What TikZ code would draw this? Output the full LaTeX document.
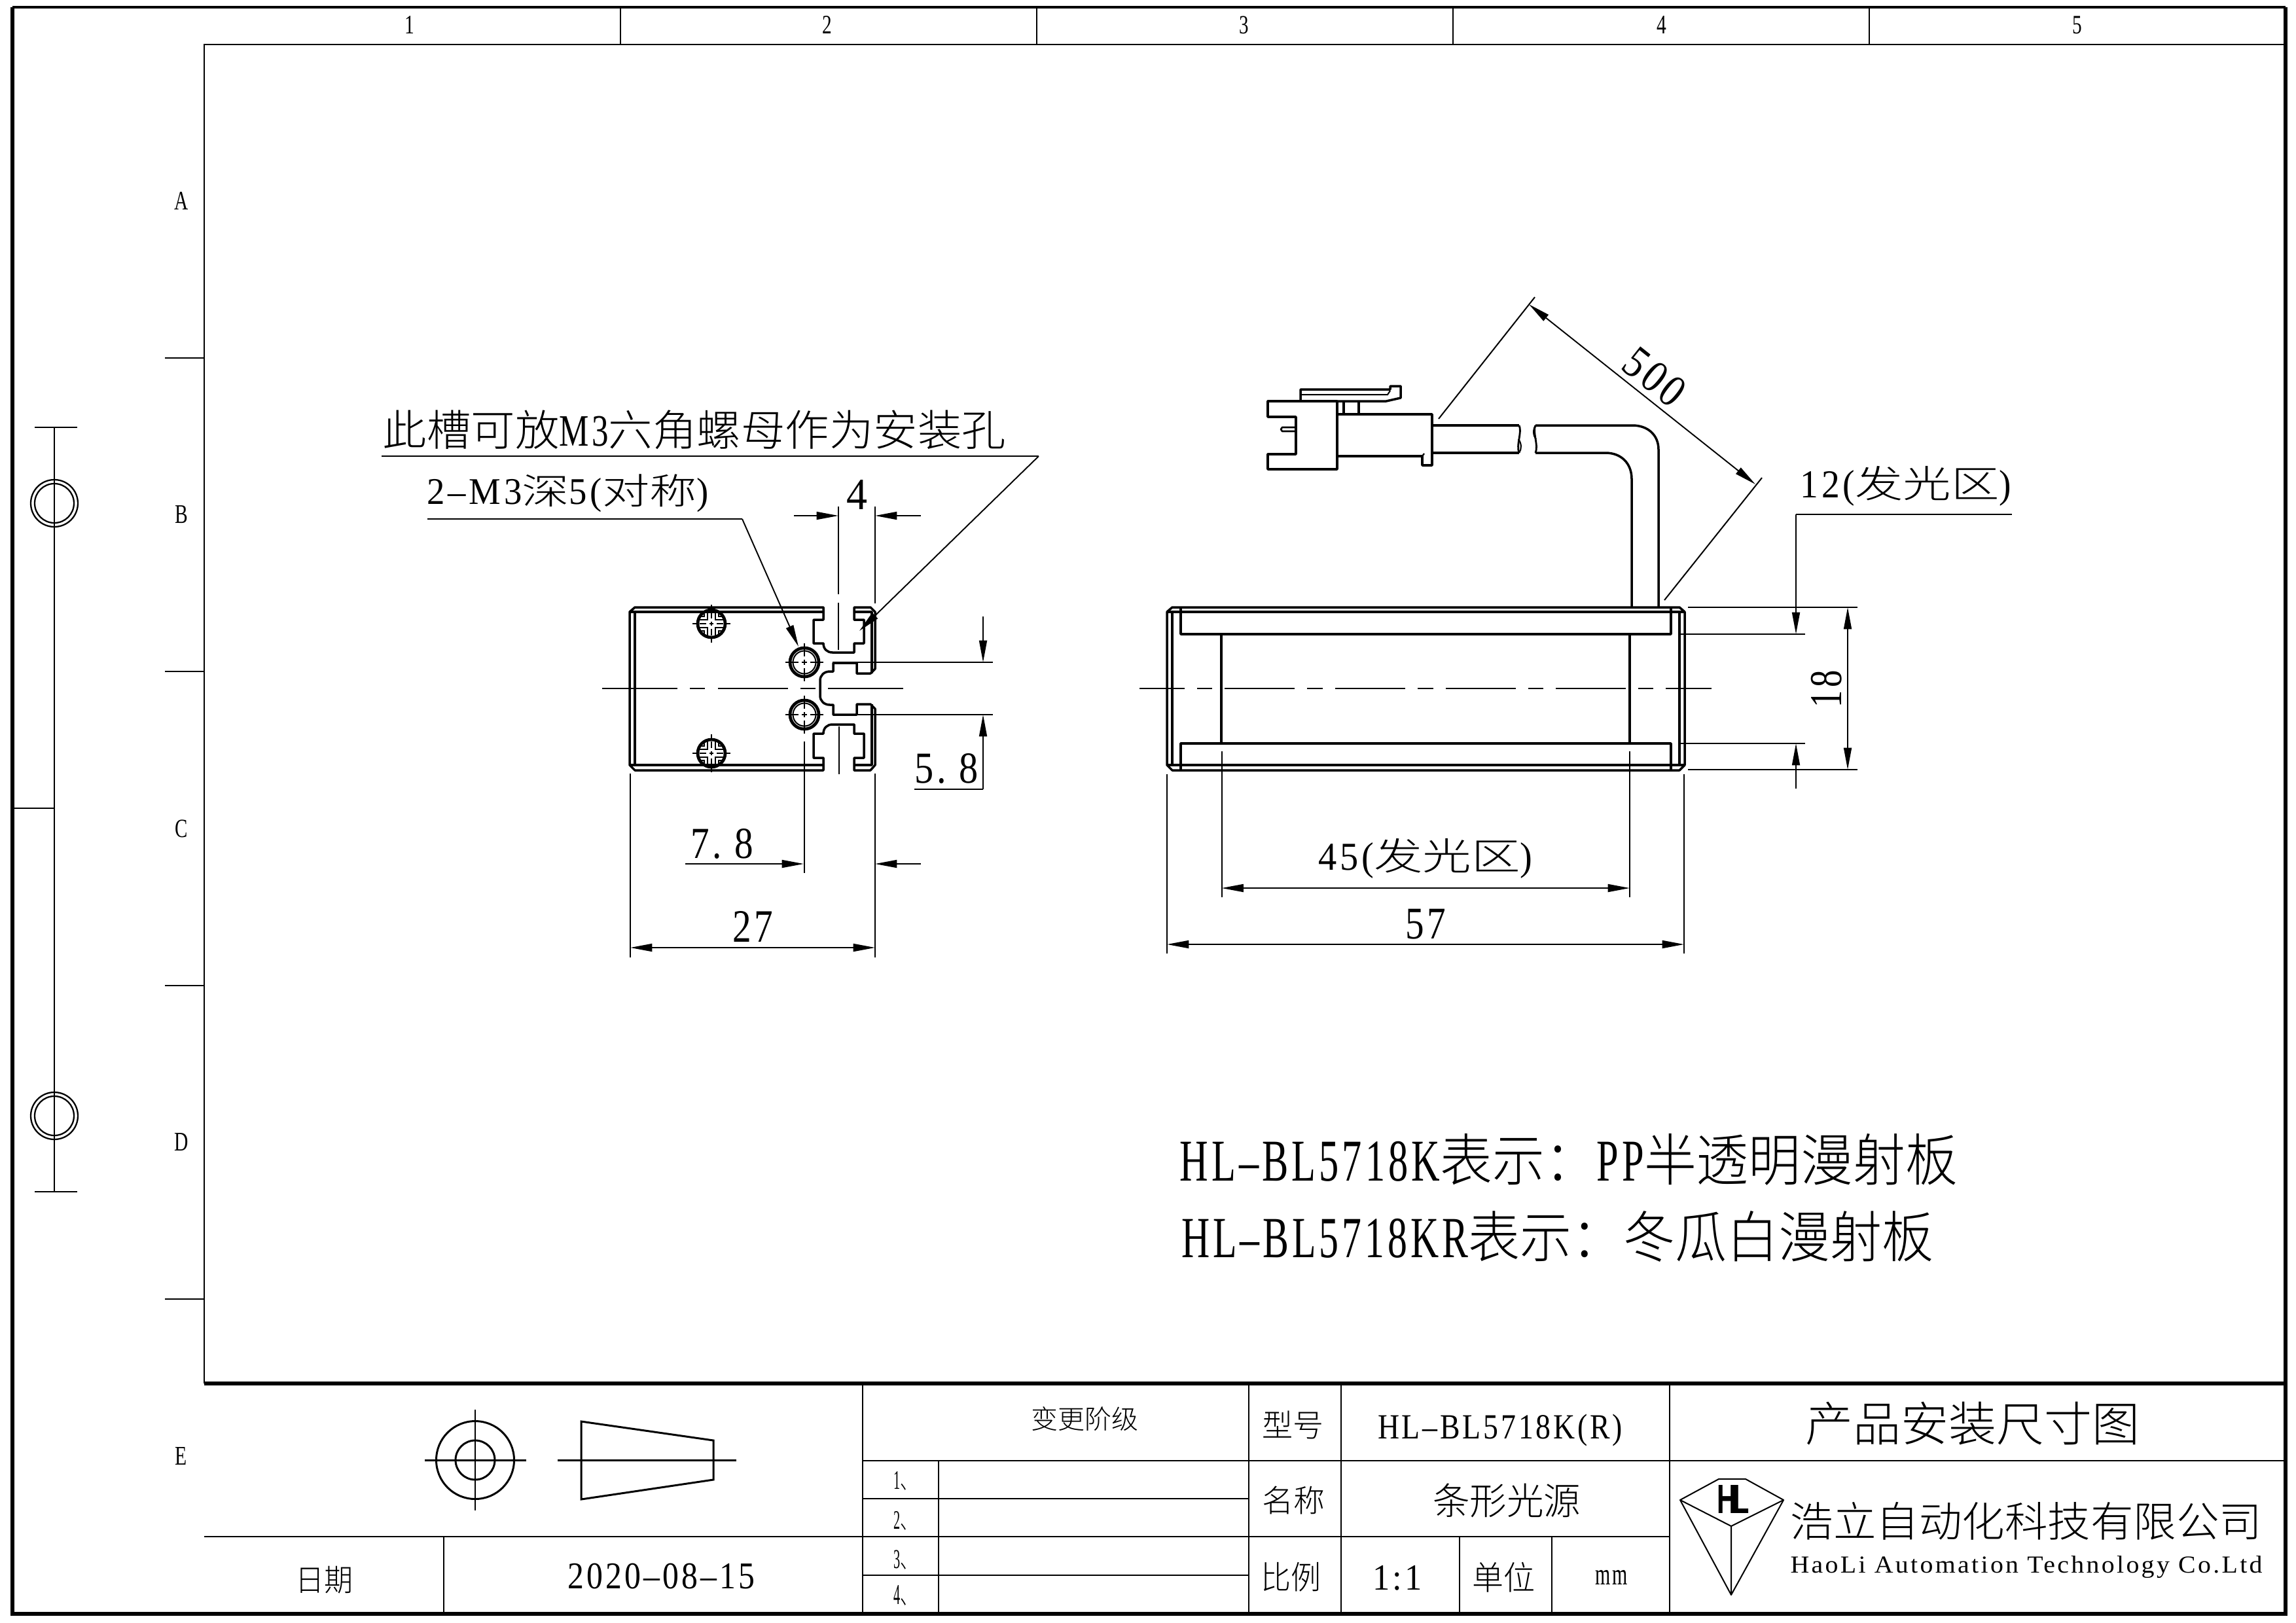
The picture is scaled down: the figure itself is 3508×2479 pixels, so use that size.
\documentclass[tikz,border=0pt]{standalone}
\usepackage{graphicx}
\usepackage{fontspec}
\usetikzlibrary{arrows.meta}
\setmainfont[FakeStretch=0.72,LetterSpace=6,Scale=1.05]{Liberation Serif}
\newfontfamily\cjk[UprightFont={* Light}]{Noto Sans CJK SC}
\newfontfamily\lgo[FakeStretch=0.62]{Liberation Sans}
\newdimen\pxu \pxu=0.02cm
\newcommand\fit[3]{\resizebox*{#1\pxu}{#2\pxu}{#3}}
\newcommand\fh[2]{\resizebox*{!}{#1\pxu}{#2}}
\newcommand\C[1]{{\cjk #1}}
\newcommand\tnode[7][]{\node[txtn,#1] (#2) at (#3,#4) {\fit{#5}{#6}{#7}};}
\newcommand\lnode[5][]{\node[txtn,#1] (#2) at (#3,#4) {\fh{27}{#5}};}
\newcommand\holemark[2]{\begin{scope}[shift={(#1,#2)}]
 \draw[line width=2.7pt] (0,0) circle (22);
 \draw[thn] (0,0) circle (17.5);
 \draw[thn] (-29,0)--(-9,0) (-4,0)--(4,0) (9,0)--(29,0) (0,-29)--(0,-9) (0,-4)--(0,4) (0,9)--(0,29);
\end{scope}}
\newcommand\screwmark[2]{\begin{scope}[shift={(#1,#2)}]
 \draw[line width=2.7pt] (0,0) circle (21);
 \draw[thn] (-29,0)--(-22,0) (22,0)--(29,0) (0,-29)--(0,-22) (0,22)--(0,29) (-3,0)--(3,0) (0,-3)--(0,3);
 \draw[line width=1.6pt] (-6,-21)--(-6,-6)--(-21,-6) (6,-21)--(6,-6)--(21,-6) (-6,21)--(-6,6)--(-21,6) (6,21)--(6,6)--(21,6);
 \draw[thn] (-11,-19)--(-11,-11)--(-19,-11) (11,-19)--(11,-11)--(19,-11) (-11,19)--(-11,11)--(-19,11) (11,19)--(11,11)--(19,11);
 \draw[hair] (-18,0)--(-8,0) (8,0)--(18,0) (0,-18)--(0,-8) (0,8)--(0,18);
\end{scope}}
\tikzset{
 thk/.style={line width=2pt,line join=round},
 thn/.style={line width=1.15pt},
 hair/.style={line width=0.8pt},
 fr/.style={line width=3.5pt},
 cell/.style={line width=1.2pt},
 dimarrow/.style={line width=1.1pt,-{Triangle[length=19pt,width=6.8pt]}},
 dimboth/.style={line width=1.1pt,{Triangle[length=19pt,width=6.8pt]}-{Triangle[length=19pt,width=6.8pt]}},
 txtn/.style={inner sep=0pt,outer sep=0pt},
}
\begin{document}
\begin{tikzpicture}[x=0.02cm,y=-0.02cm]
\useasboundingbox (0,0) rectangle (3508,2479);
\fill[white] (0,0) rectangle (3508,2479);
% ---------- frame
\draw[line width=2.4pt] (19,11)--(3492,11);
\draw[fr] (19,11)--(19,2466)--(3492,2466)--(3492,11);
\draw[line width=1.6pt] (312,2114)--(312,68)--(3492,68);
\draw[cell] (948,11)--(948,68) (1584,11)--(1584,68) (2220,11)--(2220,68) (2856,11)--(2856,68);
\draw[cell] (252,547)--(312,547) (252,1026)--(312,1026) (252,1506)--(312,1506) (252,1985)--(312,1985);
\lnode{c1}{626}{38}{1}\lnode{c2}{1264}{38}{2}\lnode{c3}{1901}{38}{3}\lnode{c4}{2539}{38}{4}\lnode{c5}{3174}{38}{5}
\lnode{ra}{277}{307}{A}\lnode{rb}{277}{786}{B}\lnode{rc}{277}{1266}{C}\lnode{rd}{277}{1745}{D}\lnode{re}{277}{2225}{E}
% ---------- hinge marks
\draw[thn] (53,653)--(118,653) (83,653)--(83,1821) (53,1821)--(118,1821) (19,1235)--(83,1235);
\draw[line width=1.3pt] (83,769) circle (36) (83,769) circle (30) (83,1705) circle (36) (83,1705) circle (30);
% ---------- title block
\draw[line width=3.3pt] (312,2114)--(3492,2114);
\draw[line width=1.6pt] (312,2348)--(2551,2348) (1318,2232)--(3492,2232);
\draw[line width=1.6pt] (1318,2290)--(1908,2290) (1318,2407)--(1908,2407);
\draw[cell] (1318,2114)--(1318,2466) (1908,2114)--(1908,2466) (2049,2114)--(2049,2466) (2551,2114)--(2551,2466);
\draw[cell] (678,2348)--(678,2466) (1434,2232)--(1434,2466) (2230,2348)--(2230,2466) (2371,2348)--(2371,2466);
\draw[line width=1.7pt] (726,2231) circle (59.5) (726,2231) circle (30);
\draw[thn] (726,2154)--(726,2308);
\draw[line width=1.7pt] (649,2231)--(804,2231) (852,2231)--(1125,2231);
\draw[line width=1.7pt] (888,2172)--(1090,2201)--(1090,2261)--(888,2291)--cycle;
\tnode{rev}{1657}{2168}{164}{37}{\C{变更阶级}}
\tnode{tmodel}{1975}{2177}{94}{43}{\C{型号}}
\tnode{model}{2292}{2185}{374}{49}{HL–BL5718K(R)}
\tnode{tname}{1976}{2293}{96}{43}{\C{名称}}
\tnode{name}{2302}{2293}{226}{52}{\C{条形光源}}
\tnode{tscale}{1972}{2410}{92}{45}{\C{比例}}
\tnode{scale}{2135}{2411}{76}{38}{1:1}
\tnode{tunit}{2297}{2410}{96}{46}{\C{单位}}
\tnode{unit}{2462}{2410}{49}{22}{mm}
\tnode{r1}{1384}{2262}{37}{27}{1\smash{\C{、}}}
\tnode{r2}{1384}{2323}{37}{27}{2\smash{\C{、}}}
\tnode{r3}{1384}{2383}{37}{28}{3\smash{\C{、}}}
\tnode{r4}{1384}{2437}{37}{29}{4\smash{\C{、}}}
\tnode{tdate}{495}{2414}{88}{42}{\C{日期}}
\tnode{date}{1010}{2409}{286}{39}{2020–08–15}
\tnode{title}{3014}{2175}{511}{66}{\C{产品安装尺寸图}}
\tnode{co}{3096}{2324}{721}{58}{\C{浩立自动化科技有限公司}}
\tnode{coen}{3096}{2395}{721}{34}{HaoLi Automation Technology Co.Ltd}
% logo
\draw[thn,line join=round] (2626,2260)--(2667,2260)--(2725,2292)--(2645,2332)--(2567,2292)--cycle;
\draw[thn,line join=round] (2567,2292)--(2645,2437)--(2725,2292) (2645,2332)--(2645,2437);
\tnode{logo}{2648}{2291}{50}{43}{\lgo\bfseries H\kern-0.08em L}
% ---------- left view
\draw[thk] (962,935)--(970,928)--(1258,928)--(1258,947)--(1243,947)--(1243,983)--(1258,983)
 .. controls (1258,992) and (1264,997) .. (1272,997)--(1305,997)--(1305,983)--(1320,983)--(1320,947)--(1305,947)--(1305,928)
 --(1330,928)--(1337,935)--(1337,1022)--(1330,1029)--(1309,1029)--(1309,1013)--(1273,1013)--(1273,1026)--(1268,1026)
 .. controls (1259,1026) and (1253,1032) .. (1253,1040)--(1253,1063)
 .. controls (1253,1071) and (1259,1077) .. (1268,1077)--(1273,1077)--(1273,1092)--(1309,1092)--(1309,1076)--(1330,1076)--(1337,1083)
 --(1337,1169)--(1330,1177)--(1305,1177)--(1305,1158)--(1320,1158)--(1320,1121)--(1305,1121)--(1305,1107)--(1272,1107)
 .. controls (1264,1107) and (1258,1112) .. (1258,1121)--(1243,1121)--(1243,1158)--(1258,1158)--(1258,1177)--(970,1177)--(962,1169)--cycle;
\draw[thk] (970,935)--(1258,935) (970,935)--(970,1169) (970,1169)--(1258,1169) (962,935)--(970,935) (962,1169)--(970,1169);
\draw[thk] (1305,935)--(1332,935)--(1332,1029) (1332,1076)--(1332,1169)--(1305,1169);
\holemark{1229}{1012}\holemark{1229}{1092}
\screwmark{1087}{953}\screwmark{1087}{1151}
\draw[thn] (920,1052)--(1035,1052) (1054,1052)--(1077,1052) (1097,1052)--(1204,1052) (1223,1052)--(1246,1052) (1265,1052)--(1380,1052);
\draw[thn] (1281,774)--(1281,908) (1281,921)--(1281,993) (1282,1110)--(1282,1183);
% left view dimensions
\coordinate (a4l) at (1213,788);\coordinate (b4l) at (1281,788);\coordinate (a4r) at (1407,788);\coordinate (b4r) at (1337,788);
\draw[thn] (1337,774)--(1337,922);
\draw[dimarrow] (a4l)--(b4l);\draw[dimarrow] (a4r)--(b4r);
\draw[thn] (1272,1012)--(1517,1012) (1272,1092)--(1517,1092);
\draw[dimarrow] (1502,942)--(1502,1012);
\draw[thn] (1397,1206)--(1502,1206);\draw[dimarrow] (1502,1206)--(1502,1092);
\draw[thn] (1229,1133)--(1229,1334) (1337,1182)--(1337,1463) (963,1182)--(963,1463);
\draw[dimarrow] (1047,1320)--(1228,1320);\draw[dimarrow] (1407,1320)--(1337,1320);
\draw[dimboth] (963,1448)--(1337,1448);
\tnode{d4}{1309}{756}{32}{45}{4}
\tnode{d58}{1446}{1174}{98}{46}{5.\kern0.25em 8}
\tnode{d78}{1103}{1289}{96}{46}{7.\kern0.25em 8}
\tnode{d27}{1150}{1416}{62}{47}{27}
% leaders
\draw[thn] (583,697)--(1587,697);
\draw[dimarrow] (1587,697)--(1313,964);
\draw[thn] (653,793)--(1134,793);
\draw[dimarrow] (1134,793)--(1220,988);
\tnode{slot}{1061}{657}{952}{60}{\C{此槽可放}M3\C{六角螺母作为安装孔}}
\tnode{hole}{868}{754}{430}{58}{2–M3\C{深}5(\C{对称})}
% ---------- right view
\draw[thk] (1783,935)--(1791,928)--(2566,928)--(2574,935)--(2574,1169)--(2566,1177)--(1791,1177)--(1783,1169)--cycle;
\draw[thk] (1783,935)--(1791,935)--(1791,1169)--(1783,1169) (1791,935)--(2566,935) (1791,1169)--(2566,1169) (2574,935)--(2566,935)--(2566,1169)--(2574,1169);
\draw[thk] (1804,928)--(1804,969)--(2553,969)--(2553,928) (1804,1177)--(1804,1136)--(2553,1136)--(2553,1177);
\draw[thk] (1866,969)--(1866,1136) (2490,969)--(2490,1136);
\draw[thn] (1741,1052)--(1810,1052) (1829,1052)--(1852,1052) (1871,1052)--(1978,1052) (1997,1052)--(2021,1052) (2040,1052)--(2147,1052)
 (2166,1052)--(2190,1052) (2209,1052)--(2316,1052) (2335,1052)--(2358,1052) (2377,1052)--(2484,1052) (2503,1052)--(2526,1052) (2545,1052)--(2615,1052);
% cable and connector
\draw[thk] (2188,650)--(2321,650) (2188,692)--(2321,692);
\draw[thk,line width=1.6pt] (2321,650) .. controls (2326,660) and (2316,680) .. (2321,692);
\draw[thk,line width=1.2pt] (2320,671) .. controls (2325,678) and (2325,686) .. (2321,692);
\draw[thk,line width=1.6pt] (2346,650) .. controls (2341,660) and (2351,680) .. (2346,692);
\draw[thk,line width=1.2pt] (2346,650) .. controls (2342,656) and (2342,666) .. (2347,671);
\draw[thk] (2346,650)--(2494,650) .. controls (2518,650) and (2534,665) .. (2534,687)--(2534,927);
\draw[thk] (2346,692)--(2453,692) .. controls (2477,692) and (2493,708) .. (2493,732)--(2493,927);
\draw[thk] (1937,613)--(2043,613)--(2043,717)--(1937,717)--(1937,694)--(1980,694)--(1980,637)--(1937,637)--cycle;
\draw[thk,line width=1.5pt] (1980,653)--(1959,653)--(1957,656)--(1959,659)--(1980,659);
\draw[thk] (1987,613)--(1987,595)--(2124,595)--(2124,590)--(2140,590)--(2140,608)--(2118,613)--cycle;
\draw[thn] (1987,603)--(2120,603)--(2124,597);
\draw[thk] (2053,613)--(2053,633) (2076,613)--(2076,633);
\draw[thk] (2043,633)--(2188,633)--(2188,711)--(2173,711)--(2173,697)--(2043,697);
\draw[thk,line width=1.3pt] (2173,697)--(2176,693);
% right view dimensions
\draw[thn] (2198,640)--(2345,454) (2543,917)--(2692,730);
\draw[dimboth] (2336,465)--(2682,740);
\tnode[rotate=-38.5]{d500}{2528}{576}{100}{47}{500}
\draw[thn] (1783,1183)--(1783,1457) (2573,1183)--(2573,1457) (1866.5,1148)--(1866.5,1371) (2490,1148)--(2490,1371);
\draw[dimboth] (1866.5,1357)--(2490,1357);
\draw[dimboth] (1783,1443)--(2573,1443);
\tnode{d45}{2178}{1312}{327}{61}{45(\C{发光区})}
\tnode{d57}{2178}{1412}{62}{46}{57}
\draw[thn] (2579,928)--(2838,928) (2579,1176)--(2838,1176) (2567,969)--(2758,969) (2567,1136)--(2758,1136);
\draw[dimboth] (2823,928)--(2823,1176);
\draw[thn] (3074,786)--(2744,786);
\draw[dimarrow] (2744,786)--(2744,969);
\draw[dimarrow] (2744,1205)--(2744,1136);
\tnode{d12}{2912}{743}{322}{61}{12(\C{发光区})}
\tnode[rotate=90]{d18}{2791}{1053}{57}{47}{18}
% ---------- notes
\tnode{n1}{2397}{1772}{1188}{79}{HL–BL5718K\C{表示：}PP\C{半透明漫射板}}
\tnode{n2}{2380}{1889}{1150}{78}{HL–BL5718KR\C{表示：冬瓜白漫射板}}
\end{tikzpicture}
\end{document}
